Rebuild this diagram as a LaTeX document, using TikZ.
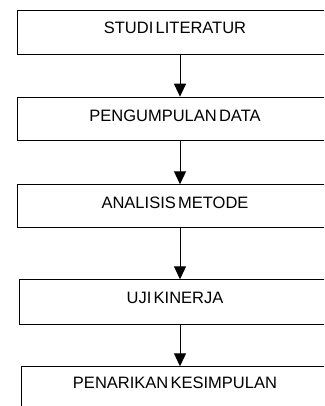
\documentclass[tikz,border=0pt]{standalone}
\usepackage{fontspec}
\setmainfont[WordSpace=0.5]{Liberation Sans}
\usetikzlibrary{arrows.meta}
\begin{document}
\begin{tikzpicture}[x=1pt,y=-1pt,
  stepbox/.style={draw=black,line width=1pt,rectangle,inner sep=0pt},
  lbl/.style={anchor=base,inner sep=0pt,font=\fontsize{16.5}{18}\selectfont},
  flow/.style={draw=black,line width=1pt,-{Triangle[width=12pt,length=13pt]}}]
\useasboundingbox (0,0) rectangle (324,406);
\begin{scope}
\clip (0,0) rectangle (324,406);
\node[stepbox,minimum width=325pt,minimum height=43.7pt,anchor=north west] (b1) at (17.3,10) {};
\node[stepbox,minimum width=325pt,minimum height=43.3pt,anchor=north west] (b2) at (17.3,96.7) {};
\node[stepbox,minimum width=325pt,minimum height=42.4pt,anchor=north west] (b3) at (17.3,184.3) {};
\node[stepbox,minimum width=322pt,minimum height=45pt,anchor=north west] (b4) at (18.7,279.3) {};
\node[stepbox,minimum width=320pt,minimum height=44pt,anchor=north west] (b5) at (20.7,366.3) {};
\end{scope}
\node[lbl] (t1) at (175,33.7) {STUDI LITERATUR};
\node[lbl] (t2) at (175,121.8) {PENGUMPULAN DATA};
\node[lbl] (t3) at (175,208.3) {ANALISIS METODE};
\node[lbl] (t4) at (175,303.3) {UJI KINERJA};
\node[lbl] (t5) at (175,388.7) {PENARIKAN KESIMPULAN};
\coordinate (a1s) at (180,53.7); \coordinate (a1e) at (180,96.7);
\coordinate (a2s) at (180,140); \coordinate (a2e) at (180,184.3);
\coordinate (a3s) at (180,226.7); \coordinate (a3e) at (180,279.3);
\coordinate (a4s) at (180,324.3); \coordinate (a4e) at (180,366.3);
\draw[flow] (a1s) -- (a1e);
\draw[flow] (a2s) -- (a2e);
\draw[flow] (a3s) -- (a3e);
\draw[flow] (a4s) -- (a4e);
\end{tikzpicture}
\end{document}
